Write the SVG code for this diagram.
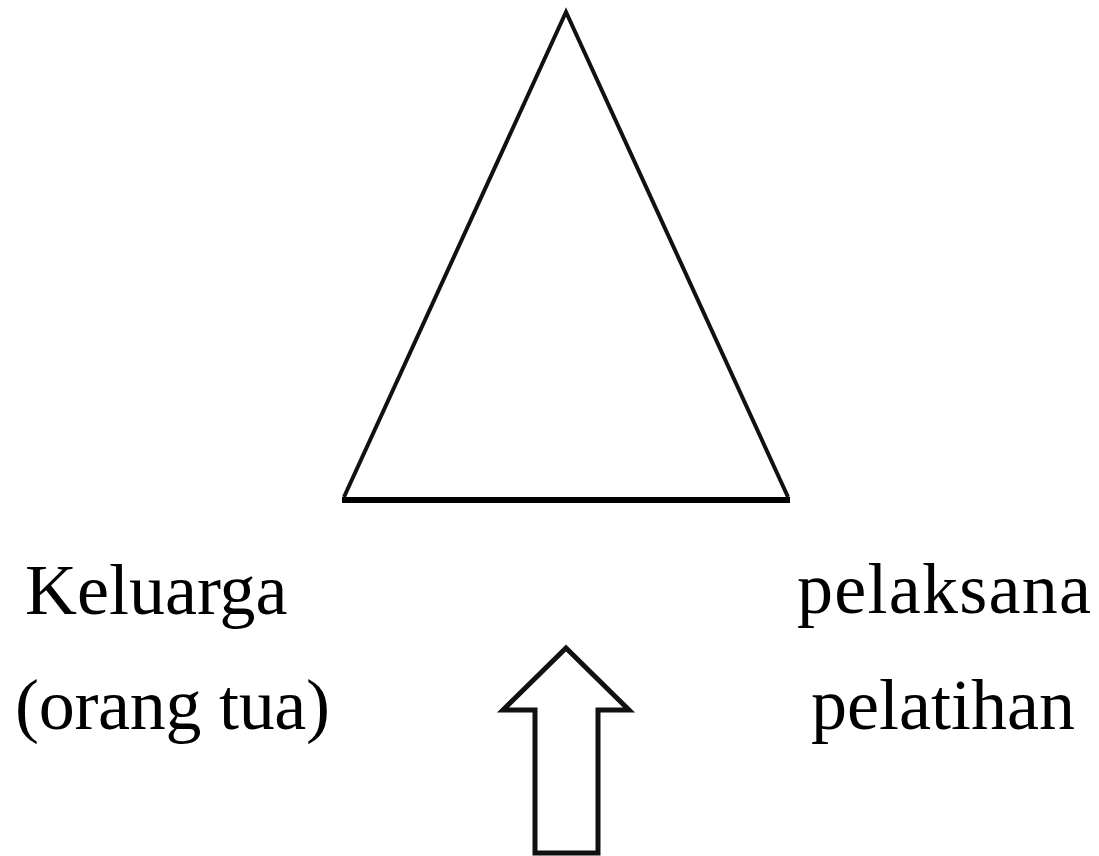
<svg xmlns="http://www.w3.org/2000/svg" width="1099" height="856" viewBox="0 0 1099 856">
<style>
.lbl{font-family:"Liberation Serif","Times New Roman",serif;font-size:72px;fill:#000}
.shape{fill:none;stroke:#111;stroke-linejoin:miter}
</style>
<rect width="1099" height="856" fill="#fff"/>
<g id="triangle">
<path class="shape" d="M344,497 L566,12 L788,497" stroke-width="4"/>
<line x1="342" y1="500" x2="790" y2="500" stroke="#000" stroke-width="6"/>
</g>
<g id="keluarga"><text class="lbl" x="25" y="614">Keluarga</text></g>
<g id="orangtua"><text class="lbl" x="15" y="729" textLength="315" lengthAdjust="spacing">(orang tua)</text></g>
<g id="pelaksana"><text class="lbl" x="797" y="613" textLength="294" lengthAdjust="spacing">pelaksana</text></g>
<g id="pelatihan"><text class="lbl" x="811" y="729">pelatihan</text></g>
<g id="connectors">
<path class="shape" d="M566,648 L503,710 L535,710 L535,853 L598,853 L598,710 L629,710 Z" stroke-width="5"/>
</g>
</svg>
